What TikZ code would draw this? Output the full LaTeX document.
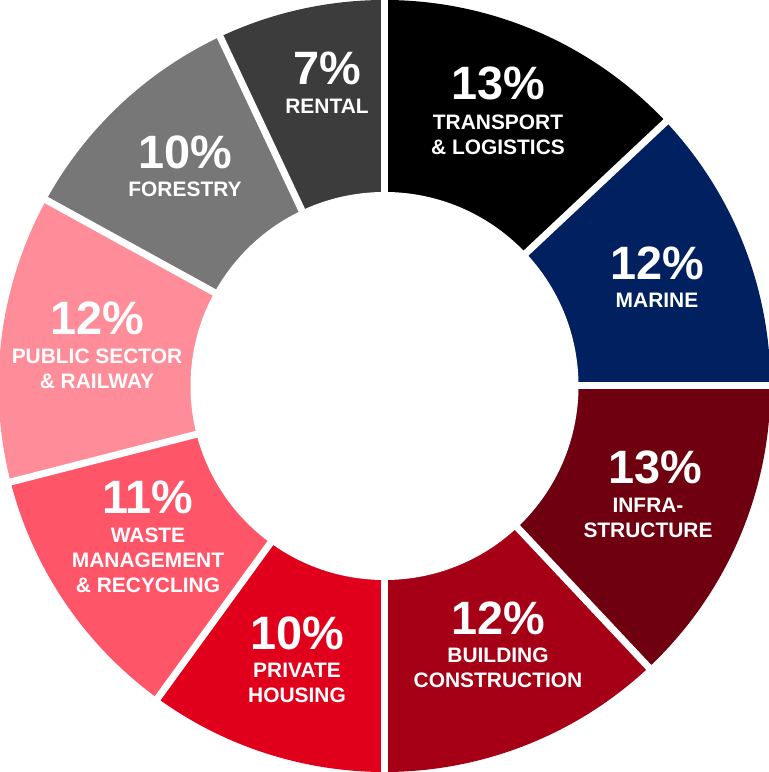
\documentclass[tikz,border=0pt]{standalone}
\usepackage{fontspec}
\setmainfont{Liberation Sans}
\definecolor{transport}{RGB}{0,0,0}
\definecolor{marine}{RGB}{0,32,96}
\definecolor{infra}{RGB}{110,0,16}
\definecolor{building}{RGB}{165,0,22}
\definecolor{housing}{RGB}{224,0,27}
\definecolor{waste}{RGB}{255,85,105}
\definecolor{public}{RGB}{255,140,153}
\definecolor{forestry}{RGB}{119,119,119}
\definecolor{rental}{RGB}{60,60,60}
\tikzset{
  pct/.style={text=white,font=\bfseries\fontsize{47}{47}\selectfont,inner sep=0pt},
  lbl/.style={text=white,font=\bfseries\fontsize{21}{25}\selectfont,align=center,inner sep=0pt},
  gap/.style={white,line width=7bp}
}
\begin{document}
\begin{tikzpicture}
  \useasboundingbox (0bp,0bp) rectangle (769bp,772bp);
  \coordinate (C) at (384.5bp,386bp);
  % sectors, clockwise from the top
  \fill [transport] (C) -- ++(90:386bp) arc [start angle=90, end angle=43.2, radius=386bp] -- cycle;
  \fill [marine] (C) -- ++(43.2:386bp) arc [start angle=43.2, end angle=0, radius=386bp] -- cycle;
  \fill [infra] (C) -- ++(0:386bp) arc [start angle=0, end angle=-46.8, radius=386bp] -- cycle;
  \fill [building] (C) -- ++(-46.8:386bp) arc [start angle=-46.8, end angle=-90, radius=386bp] -- cycle;
  \fill [housing] (C) -- ++(-90:386bp) arc [start angle=-90, end angle=-126, radius=386bp] -- cycle;
  \fill [waste] (C) -- ++(-126:386bp) arc [start angle=-126, end angle=-165.6, radius=386bp] -- cycle;
  \fill [public] (C) -- ++(-165.6:386bp) arc [start angle=-165.6, end angle=-208.8, radius=386bp] -- cycle;
  \fill [forestry] (C) -- ++(-208.8:386bp) arc [start angle=-208.8, end angle=-244.8, radius=386bp] -- cycle;
  \fill [rental] (C) -- ++(-244.8:386bp) arc [start angle=-244.8, end angle=-270, radius=386bp] -- cycle;
  % white separators and hole
  \draw [gap] (C) -- ++(90:400bp);
  \draw [gap] (C) -- ++(43.2:400bp);
  \draw [gap] (C) -- ++(0:400bp);
  \draw [gap] (C) -- ++(-46.8:400bp);
  \draw [gap] (C) -- ++(-90:400bp);
  \draw [gap] (C) -- ++(-126:400bp);
  \draw [gap] (C) -- ++(-165.6:400bp);
  \draw [gap] (C) -- ++(-208.8:400bp);
  \draw [gap] (C) -- ++(-244.8:400bp);
  \fill [white] (C) circle [radius=194bp];
  % labels
  \node (pTransport) at (498bp,689bp) [pct] {13\%};
  \node (lTransport) at (498bp,637bp) [lbl] {TRANSPORT\\\& LOGISTICS};
  \node (pMarine) at (657bp,509bp) [pct] {12\%};
  \node (lMarine) at (657bp,472bp) [lbl] {MARINE};
  \node (pInfra) at (655bp,305bp) [pct] {13\%};
  \node (lInfra) at (648bp,254bp) [lbl] {INFRA-\\STRUCTURE};
  \node (pBuilding) at (498bp,154bp) [pct] {12\%};
  \node (lBuilding) at (498bp,104bp) [lbl] {BUILDING\\CONSTRUCTION};
  \node (pHousing) at (297bp,139bp) [pct] {10\%};
  \node (lHousing) at (297bp,89bp) [lbl] {PRIVATE\\HOUSING};
  \node (pWaste) at (148bp,275bp) [pct] {11\%};
  \node (lWaste) at (148bp,212bp) [lbl] {WASTE\\MANAGEMENT\\\& RECYCLING};
  \node (pPublic) at (97bp,454bp) [pct] {12\%};
  \node (lPublic) at (97bp,403bp) [lbl] {PUBLIC SECTOR\\\& RAILWAY};
  \node (pForestry) at (185bp,620bp) [pct] {10\%};
  \node (lForestry) at (185bp,583bp) [lbl] {FORESTRY};
  \node (pRental) at (327bp,704bp) [pct] {7\%};
  \node (lRental) at (327bp,666bp) [lbl] {RENTAL};
\end{tikzpicture}
\end{document}
